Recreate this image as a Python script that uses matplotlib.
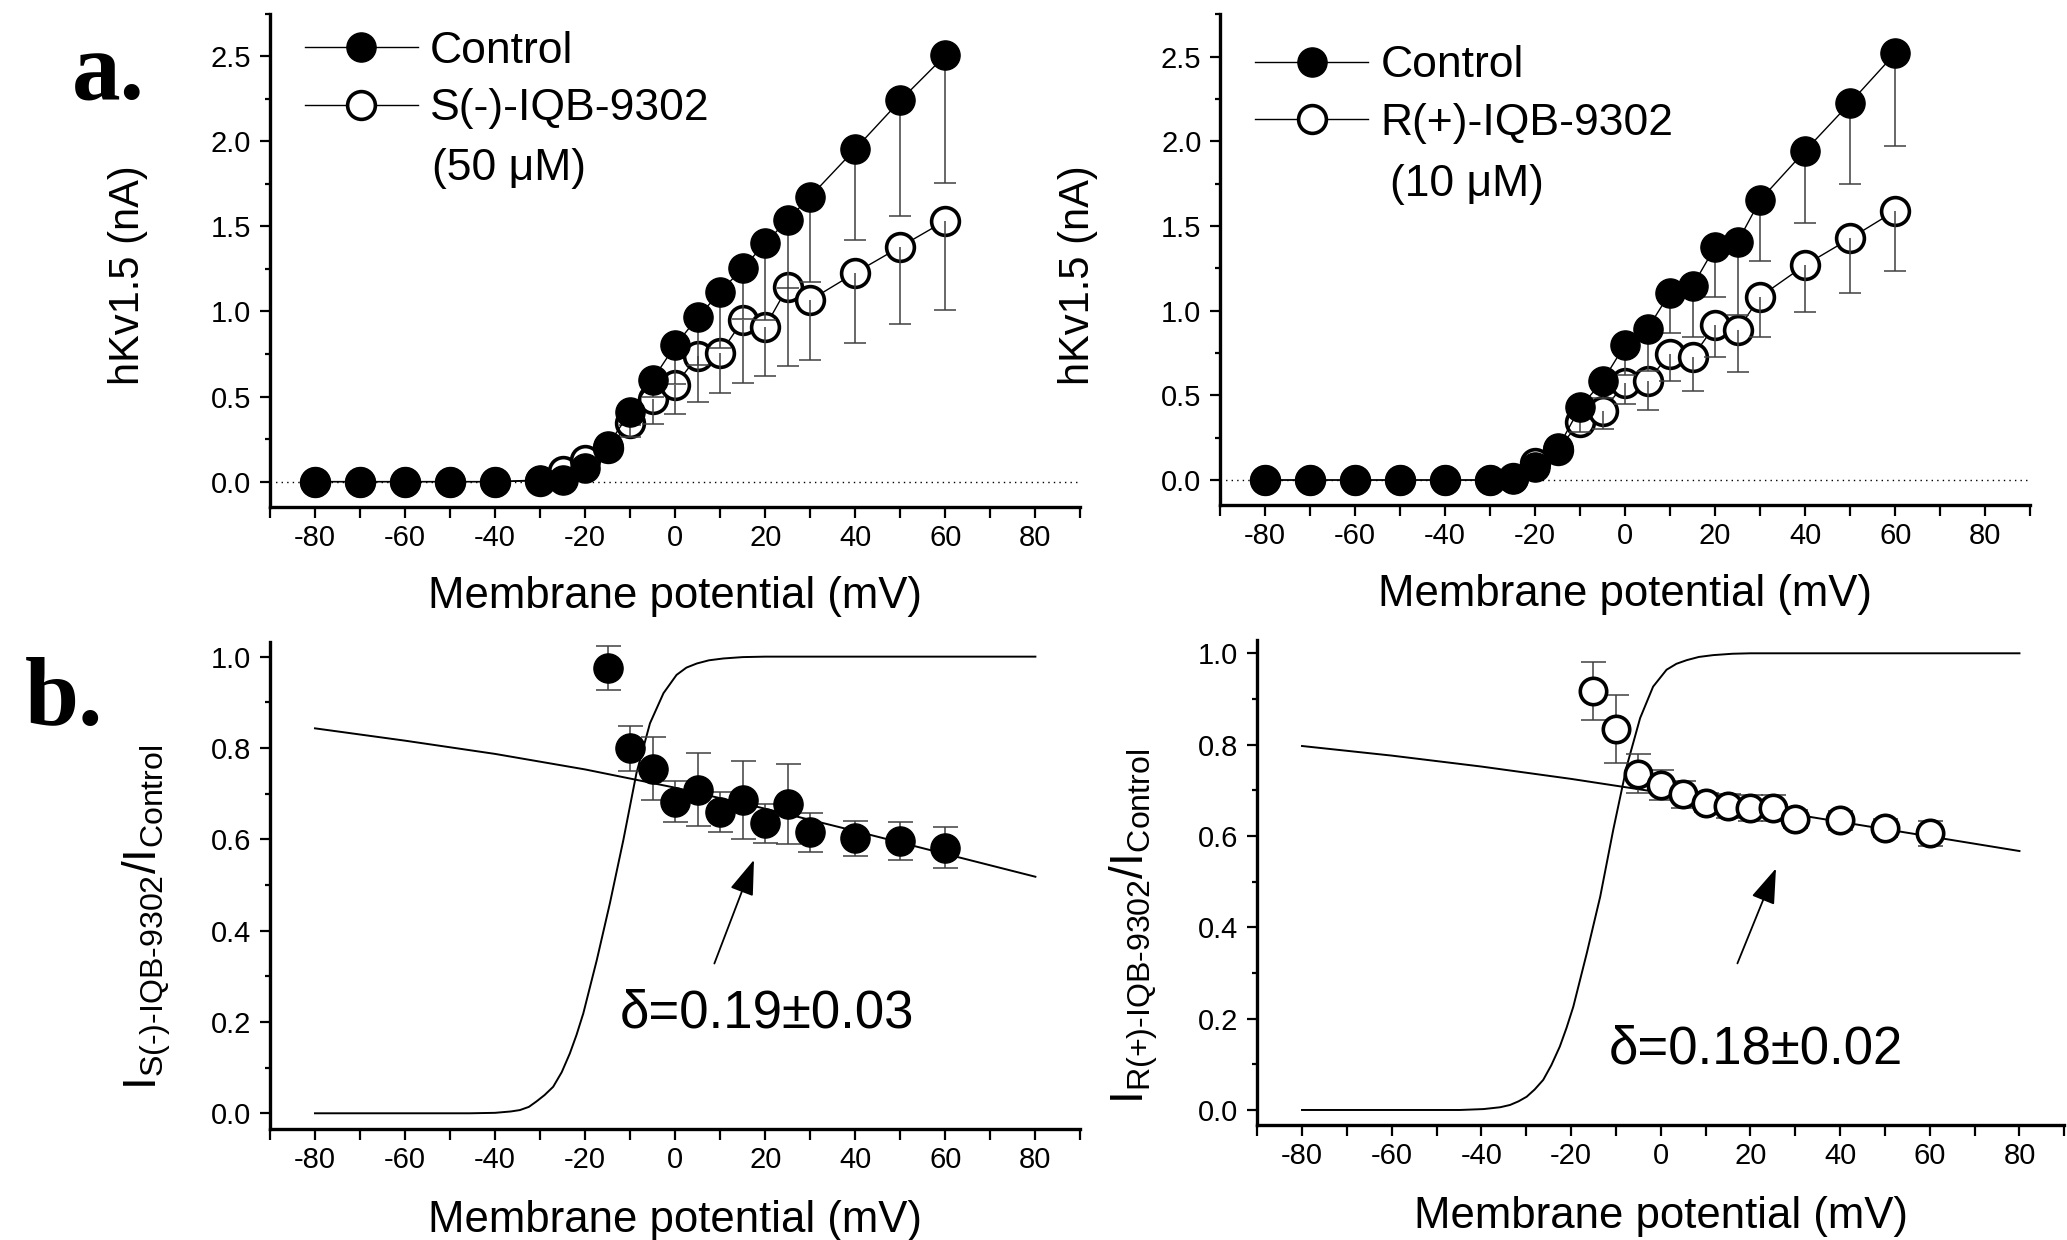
import matplotlib
matplotlib.use('Agg')
import matplotlib.pyplot as plt
from matplotlib.ticker import MultipleLocator

plt.rcParams['font.family'] = ['Liberation Sans', 'DejaVu Sans']
plt.rcParams['axes.unicode_minus'] = False
plt.rcParams['mathtext.fontset'] = 'custom'
plt.rcParams['mathtext.rm'] = 'Liberation Sans'

# ---- data ----
# a. current-voltage curves (nA), lower SEM only
volts = [-80, -70, -60, -50, -40, -30, -25, -20, -15, -10, -5, 0, 5, 10, 15, 20, 25, 30, 40, 50, 60]

ctrlS = [0, 0, 0, 0, 0, 0.01, 0.01, 0.08, 0.21, 0.41, 0.60, 0.80, 0.965, 1.115, 1.255, 1.40, 1.54, 1.675, 1.955, 2.24, 2.505]
ctrlS_err = [0, 0, 0, 0, 0, 0, 0, 0, 0.03, 0.08, 0.10, 0.225, 0.28, 0.33, 0.30, 0.45, 0.40, 0.50, 0.535, 0.68, 0.75]
drugS = [0, 0, 0, 0, 0, 0.005, 0.06, 0.127, 0.20, 0.342, 0.487, 0.567, 0.737, 0.753, 0.947, 0.91, 1.145, 1.067, 1.227, 1.38, 1.533]
drugS_err = [0, 0, 0, 0, 0, 0, 0, 0, 0, 0.08, 0.146, 0.17, 0.27, 0.235, 0.37, 0.29, 0.465, 0.353, 0.41, 0.455, 0.525]

ctrlR = [0, 0, 0, 0, 0, 0, 0.006, 0.077, 0.187, 0.43, 0.585, 0.80, 0.894, 1.107, 1.147, 1.378, 1.407, 1.654, 1.945, 2.228, 2.52]
ctrlR_err = [0, 0, 0, 0, 0, 0, 0, 0, 0.03, 0.06, 0.10, 0.18, 0.25, 0.24, 0.30, 0.30, 0.43, 0.36, 0.43, 0.48, 0.55]
drugR = [0, 0, 0, 0, 0, 0, 0.01, 0.10, 0.18, 0.344, 0.41, 0.571, 0.585, 0.746, 0.728, 0.915, 0.886, 1.083, 1.27, 1.427, 1.59]
drugR_err = [0, 0, 0, 0, 0, 0, 0, 0, 0, 0.06, 0.11, 0.12, 0.17, 0.16, 0.20, 0.19, 0.25, 0.24, 0.28, 0.32, 0.354]

# b. fractional current I_drug / I_control
ratio_volts = [-15, -10, -5, 0, 5, 10, 15, 20, 25, 30, 40, 50, 60]
ratioS = [0.976, 0.799, 0.755, 0.682, 0.709, 0.66, 0.686, 0.635, 0.677, 0.615, 0.602, 0.596, 0.582]
ratioS_err = [0.048, 0.05, 0.07, 0.045, 0.08, 0.044, 0.085, 0.043, 0.087, 0.043, 0.039, 0.042, 0.044]
ratioR = [0.918, 0.834, 0.736, 0.712, 0.691, 0.673, 0.666, 0.661, 0.661, 0.637, 0.634, 0.617, 0.606]
ratioR_err = [0.064, 0.075, 0.043, 0.033, 0.03, 0.02, 0.026, 0.029, 0.028, 0.02, 0.02, 0.02, 0.027]

# fitted lines
fit_volts = [-80, -60, -40, -20, 0, 20, 40, 60, 80]
fitS = [0.843, 0.816, 0.787, 0.753, 0.713, 0.667, 0.618, 0.568, 0.518]
fitR = [0.797, 0.776, 0.752, 0.725, 0.695, 0.663, 0.631, 0.599, 0.567]

actS_volts = [-80, -45.6, -40, -36.5, -34.5, -32.5, -30.8, -29, -27.1, -25.2, -23.4, -21.9, -20.4, -17.4,
              -14.5, -11.5, -8.6, -5.6, -2.6, 0.3, 2.5, 4.8, 7.5, 10.7, 15, 20, 80]
actS = [0, 0, 0.001, 0.004, 0.007, 0.014, 0.026, 0.04, 0.058, 0.09, 0.131, 0.172, 0.219, 0.336,
        0.46, 0.599, 0.745, 0.854, 0.92, 0.96, 0.976, 0.985, 0.992, 0.996, 0.999, 1.0, 1.0]
actR_volts = [-80, -44.8, -39.5, -35.8, -33.6, -31.7, -29.9, -28.1, -26.2, -24.4, -22.5, -21, -19.5, -16.5,
              -13.5, -10.6, -7.6, -4.6, -1.7, 1.3, 3.5, 5.8, 8.5, 11.7, 16, 20, 80]
actR = [0, 0, 0.002, 0.006, 0.011, 0.019, 0.029, 0.045, 0.066, 0.098, 0.139, 0.18, 0.226, 0.343,
        0.467, 0.613, 0.752, 0.858, 0.927, 0.964, 0.977, 0.985, 0.992, 0.996, 0.999, 1.0, 1.0]

fig = plt.figure(figsize=(20.67, 12.40), dpi=100)
ax_a1 = fig.add_axes([0.1306, 0.591, 0.3921, 0.398])
ax_a2 = fig.add_axes([0.5903, 0.5924, 0.3919, 0.396])
ax_b1 = fig.add_axes([0.1306, 0.0893, 0.3921, 0.3933])
ax_b2 = fig.add_axes([0.6082, 0.0927, 0.3905, 0.3915])


def style_axes(ax, ymajor, yminor):
    for s in ['top', 'right']:
        ax.spines[s].set_visible(False)
    for s in ['left', 'bottom']:
        ax.spines[s].set_linewidth(2.4)
    ax.set_xlim(-90, 90)
    ax.xaxis.set_major_locator(MultipleLocator(20))
    ax.xaxis.set_minor_locator(MultipleLocator(10))
    ax.yaxis.set_major_locator(MultipleLocator(ymajor))
    ax.yaxis.set_minor_locator(MultipleLocator(yminor))
    ax.tick_params(which='major', length=7.5, width=1.6, labelsize=21, pad=6)
    ax.tick_params(which='minor', length=3.5, width=1.6)
    ax.tick_params(axis='x', which='both', length=8, pad=4)
    ax.set_xlabel('Membrane potential (mV)', fontsize=31.5)


def lower_bars(ax, vals, errs):
    # one-sided (downward) SEM bars with a cap at the bottom
    xs = [v for v, e in zip(volts, errs) if e > 0]
    top = [y for y, e in zip(vals, errs) if e > 0]
    low = [y - e for y, e in zip(vals, errs) if e > 0]
    ax.vlines(xs, low, top, color='0.25', lw=1.1, zorder=4)
    ax.plot(xs, low, '_', ms=16, mew=1.1, color='0.25', zorder=4)


def iv_panel(ax, ctrl, ctrl_err, drug, drug_err, name, conc, leg_y, conc_xy):
    style_axes(ax, 0.5, 0.25)
    ax.set_ylim(-0.15, 2.75)
    ax.axhline(0, color='k', lw=1.0, ls=(0, (1, 3)), zorder=1)
    lower_bars(ax, drug, drug_err)
    lower_bars(ax, ctrl, ctrl_err)
    h_drug, = ax.plot(volts, drug, '-', color='k', lw=1.0, marker='o', ms=20,
                      mfc='white', mec='k', mew=2.6, zorder=3)
    h_ctrl, = ax.plot(volts, ctrl, '-', color='k', lw=1.0, marker='o', ms=21,
                      mfc='k', mec='k', zorder=5)
    ax.legend([h_ctrl, h_drug], ['Control', name], loc='upper left',
              bbox_to_anchor=(0.043, leg_y), frameon=False, fontsize=32,
              handlelength=2.55, handletextpad=0.27, labelspacing=0.37,
              borderpad=0, borderaxespad=0, numpoints=1)
    ax.text(conc_xy[0], conc_xy[1], conc, transform=ax.transAxes, fontsize=32,
            ha='left', va='center')
    ax.set_ylabel('hKv1.5 (nA)', fontsize=30)
    ax.yaxis.set_label_coords(-0.151, 0.47)
    ax.xaxis.set_label_coords(0.5, -0.139)


def ratio_panel(ax, ratio, ratio_err, fit, act_v, act, marker_fill, ylab,
                delta, delta_xy, arrow_from, arrow_to, ylim, ylab_y):
    style_axes(ax, 0.2, 0.1)
    ax.set_ylim(*ylim)
    ax.plot(fit_volts, fit, color='k', lw=1.4, zorder=2)
    ax.plot(act_v, act, color='k', lw=1.4, zorder=2)
    ax.errorbar(ratio_volts, ratio, yerr=ratio_err, fmt='none', ecolor='0.25',
                elinewidth=1.1, capsize=9, capthick=1.1, zorder=3)
    if marker_fill == 'k':
        ax.plot(ratio_volts, ratio, 'o', ms=21, mfc='k', mec='k', zorder=4)
    else:
        ax.plot(ratio_volts, ratio, 'o', ms=19, mfc='white', mec='k', mew=2.6, zorder=4)
    ax.text(delta_xy[0], delta_xy[1], delta, fontsize=38, ha='center', va='center')
    ax.annotate('', xy=arrow_to, xytext=arrow_from,
                arrowprops=dict(arrowstyle='-|>,head_length=1.1,head_width=0.38',
                                mutation_scale=20, lw=1.3, color='k',
                                shrinkA=0, shrinkB=0))
    ax.set_ylabel(ylab, fontsize=33)
    ax.yaxis.set_label_coords(-0.12, ylab_y)
    ax.xaxis.set_label_coords(0.5, -0.146)


iv_panel(ax_a1, ctrlS, ctrlS_err, drugS, drugS_err, 'S(-)-IQB-9302', '(50 \u03bcM)',
         0.965, (0.2004, 0.6855))
iv_panel(ax_a2, ctrlR, ctrlR_err, drugR, drugR_err, 'R(+)-IQB-9302', '(10 \u03bcM)',
         0.937, (0.2102, 0.6536))

ratio_panel(ax_b1, ratioS, ratioS_err, fitS, actS_volts, actS, 'k',
            '$\\mathregular{I_{S(\u2010)\u2010IQB\u20109302}/I_{Control}}$',
            '\u03b4=0.19\u00b10.03', (20.3, 0.218), (8.7, 0.328), (17.5, 0.555),
            (-0.035, 1.033), 0.435)
ratio_panel(ax_b2, ratioR, ratioR_err, fitR, actR_volts, actR, 'w',
            '$\\mathregular{I_{R(+)\u2010IQB\u20109302}/I_{Control}}$',
            '\u03b4=0.18\u00b10.02', (21.3, 0.132), (17.1, 0.321), (25.7, 0.529),
            (-0.033, 1.03), 0.41)

fig.text(0.035, 0.920, 'a.', family='Liberation Serif', weight='bold', fontsize=70,
         ha='left', va='baseline')
fig.text(0.012, 0.415, 'b.', family='Liberation Serif', weight='bold', fontsize=70,
         ha='left', va='baseline')

fig.savefig('out.png', dpi=100)
